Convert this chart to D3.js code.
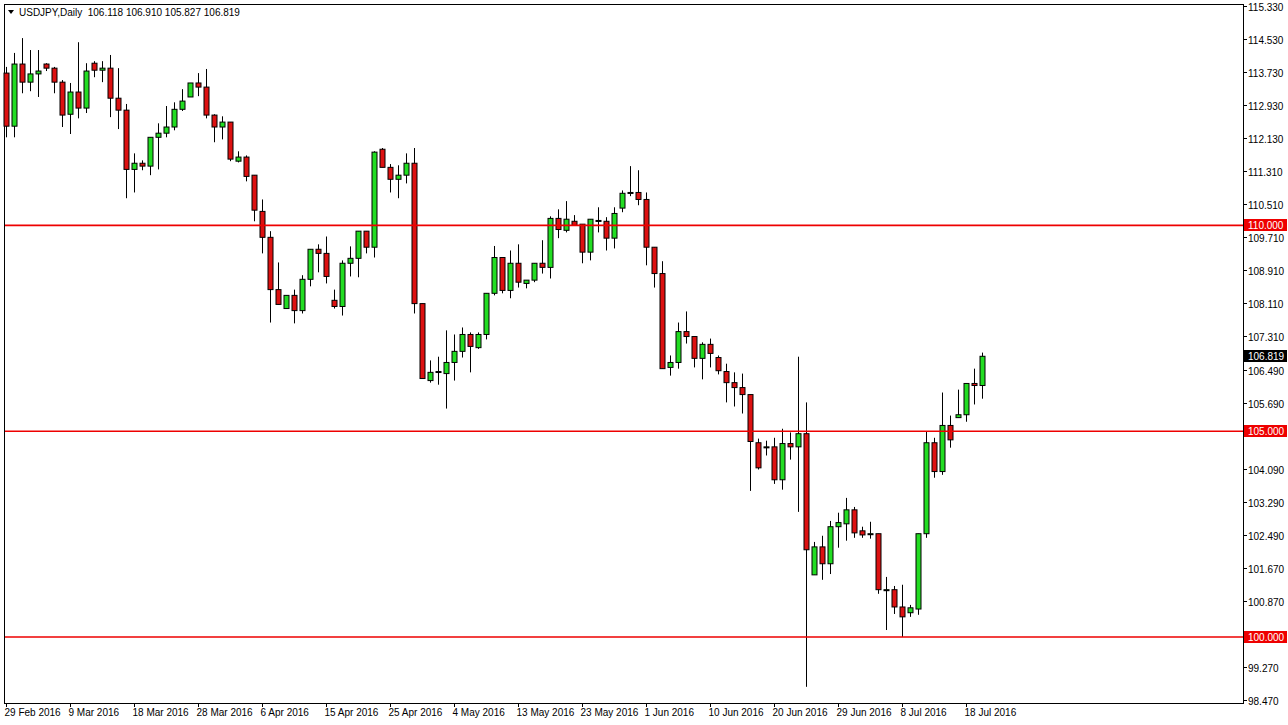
<!DOCTYPE html>
<html><head><meta charset="utf-8">
<script src="https://cdn.jsdelivr.net/npm/d3@7"></script>
<style>body{margin:0;background:#fff}svg{display:block}text{font-family:"Liberation Sans",Arial,sans-serif}</style>
</head><body><svg id="c" width="1288" height="725"></svg>
<script>
const opens=[113.70,112.41,113.92,113.48,113.68,113.92,113.82,113.48,112.70,113.24,112.85,113.94,113.77,113.82,113.09,112.80,111.36,111.51,111.44,112.14,112.24,112.39,112.82,113.12,113.46,113.36,112.68,112.39,112.51,111.56,111.66,111.22,110.34,109.71,108.44,107.98,108.30,107.93,108.69,109.42,109.32,108.18,108.03,109.08,109.20,109.86,109.47,111.85,111.41,111.12,111.22,111.51,108.10,106.23,106.43,106.40,106.67,106.94,107.35,107.03,107.35,108.35,109.22,108.42,109.08,108.59,108.67,109.08,108.98,110.17,109.88,110.10,110.03,109.35,110.12,110.10,109.69,110.42,110.78,110.80,110.63,109.47,108.83,106.55,106.67,107.42,107.30,106.77,107.11,106.79,106.45,106.18,106.06,105.89,104.72,104.62,104.62,103.82,104.70,104.62,104.94,101.51,102.19,101.78,102.68,102.75,103.09,102.58,102.51,102.51,101.15,101.15,100.73,100.59,100.68,102.51,104.72,104.02,105.14,105.33,105.40,106.16,106.11];
const highs=[113.85,114.19,114.55,114.26,114.26,113.94,113.85,113.53,113.46,114.45,113.94,113.99,113.99,114.14,113.82,112.95,111.75,111.58,112.14,112.48,112.90,112.99,113.31,113.46,113.70,113.80,112.70,112.65,112.51,111.80,111.70,111.22,110.63,109.86,109.10,108.30,108.44,108.79,109.42,109.54,109.73,108.44,109.15,109.49,109.86,109.86,111.80,111.88,111.49,111.46,111.75,111.88,108.10,106.72,106.81,107.45,107.35,107.52,107.40,107.40,108.35,109.50,109.22,109.39,109.54,108.67,109.08,109.64,110.22,110.39,110.59,110.25,110.03,110.15,110.44,110.20,110.44,110.85,111.44,111.34,110.80,109.47,109.13,106.84,107.64,107.91,107.30,107.16,107.25,106.84,106.64,106.43,106.40,105.89,104.82,104.77,104.84,105.06,104.97,106.81,105.70,102.31,102.46,102.82,103.02,103.38,103.16,102.68,102.80,102.51,101.46,101.24,101.27,100.78,102.51,104.99,104.84,105.94,105.38,106.01,106.16,106.52,106.91];
const lows=[112.14,112.14,113.21,113.26,113.12,113.75,113.21,112.39,112.22,112.60,112.73,113.60,113.48,112.63,112.34,110.66,110.80,111.34,111.22,111.36,112.14,112.31,112.78,113.12,113.14,112.60,112.02,112.09,111.56,111.53,111.07,110.10,109.32,107.64,108.08,107.98,107.62,107.86,108.52,108.86,108.59,107.98,107.81,108.76,108.74,109.32,109.22,111.41,110.80,110.66,111.02,107.86,106.28,106.18,106.13,105.55,106.23,106.79,106.43,107.00,107.23,108.30,108.35,108.23,108.49,108.47,108.62,108.83,108.71,109.69,109.83,110.00,109.08,109.15,109.83,109.39,109.44,110.32,110.71,110.49,109.03,108.49,106.52,106.35,106.52,107.13,106.55,106.26,106.55,106.38,105.70,105.60,105.43,103.55,104.07,104.41,103.72,103.58,104.31,103.04,98.79,101.51,101.39,101.53,102.17,102.34,102.41,102.41,102.39,101.05,100.17,100.56,100.00,100.49,100.54,102.41,103.87,103.94,104.60,105.33,105.23,105.65,105.79];
const closes=[112.41,113.92,113.48,113.68,113.75,113.82,113.48,112.68,113.24,112.85,113.75,113.77,113.82,113.09,112.80,111.36,111.51,111.44,112.14,112.24,112.39,112.82,113.02,113.46,113.36,112.68,112.39,112.51,111.61,111.66,111.19,110.37,109.71,108.44,108.08,108.30,107.93,108.69,109.42,109.32,108.76,108.03,109.08,109.20,109.86,109.47,111.78,111.41,111.12,111.22,111.51,108.10,106.28,106.43,106.45,106.67,106.94,107.35,107.06,107.35,108.35,109.22,108.42,109.08,108.62,108.67,109.08,108.98,110.17,109.90,110.15,110.00,109.35,110.15,110.12,109.69,110.29,110.78,110.80,110.63,109.47,108.83,106.52,106.67,107.42,107.30,106.77,107.11,106.89,106.47,106.18,106.06,105.89,104.75,104.11,104.62,103.82,104.70,104.62,104.94,102.12,102.19,101.78,102.68,102.78,103.09,102.53,102.48,102.51,101.15,101.15,100.73,100.49,100.71,102.51,104.72,104.02,105.14,104.79,105.40,106.16,106.11,106.82];
const dateLabels=["29 Feb 2016","9 Mar 2016","18 Mar 2016","28 Mar 2016","6 Apr 2016","15 Apr 2016","25 Apr 2016","4 May 2016","13 May 2016","23 May 2016","1 Jun 2016","10 Jun 2016","20 Jun 2016","29 Jun 2016","8 Jul 2016","18 Jul 2016"];
const priceTicks=[115.330,114.530,113.730,112.930,112.130,111.310,110.510,109.710,108.910,108.110,107.310,106.490,105.690,104.890,104.090,103.290,102.490,101.670,100.870,100.070,99.270,98.470];
const levels=[110.000,105.000,100.000];
const lastPrice=106.819;
const title="USDJPY,Daily  106.118 106.910 105.827 106.819";

const N=opens.length;
const svg=d3.select("#c");
const L=4,R=1243,T=4,B=703;
const x=d3.scaleBand().domain(d3.range(N)).range([2,2+8*N]);
const y=d3.scaleLinear().domain([98.47,115.33]).range([700,6]);
const cx=i=>x(i)+x.bandwidth()/2;

svg.append("rect").attr("x",L+0.5).attr("y",T+0.5).attr("width",R-L).attr("height",B-T).attr("fill","#fff").attr("stroke","#000");

const g=svg.append("g");
d3.range(N).forEach(i=>{
  const up=closes[i]>=opens[i];
  const X=Math.round(cx(i))+0.5;
  g.append("line").attr("x1",X).attr("x2",X).attr("y1",y(highs[i])).attr("y2",y(lows[i])).attr("stroke","#000");
  const top=y(Math.max(opens[i],closes[i])),bot=y(Math.min(opens[i],closes[i]));
  g.append("rect").attr("x",X-2.5).attr("y",top).attr("width",5).attr("height",Math.max(bot-top,1))
   .attr("fill",up?"#22dd22":"#dd1111").attr("stroke","#000").attr("stroke-width",1);
});

// levels on top
levels.forEach(v=>svg.append("line").attr("x1",L+1).attr("x2",R).attr("y1",y(v)).attr("y2",y(v))
  .attr("stroke","#ee0000").attr("stroke-width",1.6));

// right axis
const ay=svg.append("g");
const tagVals=levels.concat([lastPrice]);
priceTicks.forEach(v=>{
  const Y=Math.round(y(v))+0.5;
  ay.append("line").attr("x1",R).attr("x2",R+4).attr("y1",Y).attr("y2",Y).attr("stroke","#000");
  if(tagVals.some(t=>Math.abs(y(t)-y(v))<11)) return;
  ay.append("text").attr("x",R+5).attr("y",Y+4).attr("font-size",10).text(v.toFixed(3));
});
function tag(v,bg){
  const Y=Math.round(y(v));
  ay.append("rect").attr("x",R+1).attr("y",Y-6).attr("width",43).attr("height",12).attr("fill",bg);
  ay.append("text").attr("x",R+5).attr("y",Y+4).attr("font-size",10).attr("fill","#fff").text(v.toFixed(3));
}
levels.forEach(v=>tag(v,"#ee0000"));
tag(lastPrice,"#000");

// bottom axis
dateLabels.forEach((d,k)=>{
  const X=Math.round(cx(k*8))+0.5;
  svg.append("line").attr("x1",X).attr("x2",X).attr("y1",B).attr("y2",B+4).attr("stroke","#000");
  svg.append("text").attr("x",X-2).attr("y",B+13).attr("font-size",10).text(d);
});

svg.append("path").attr("d","M8,10 L14,10 L11,14 Z").attr("fill","#000");
svg.append("text").attr("x",19).attr("y",16).attr("font-size",10).style("white-space","pre").text(title);
</script></body></html>
